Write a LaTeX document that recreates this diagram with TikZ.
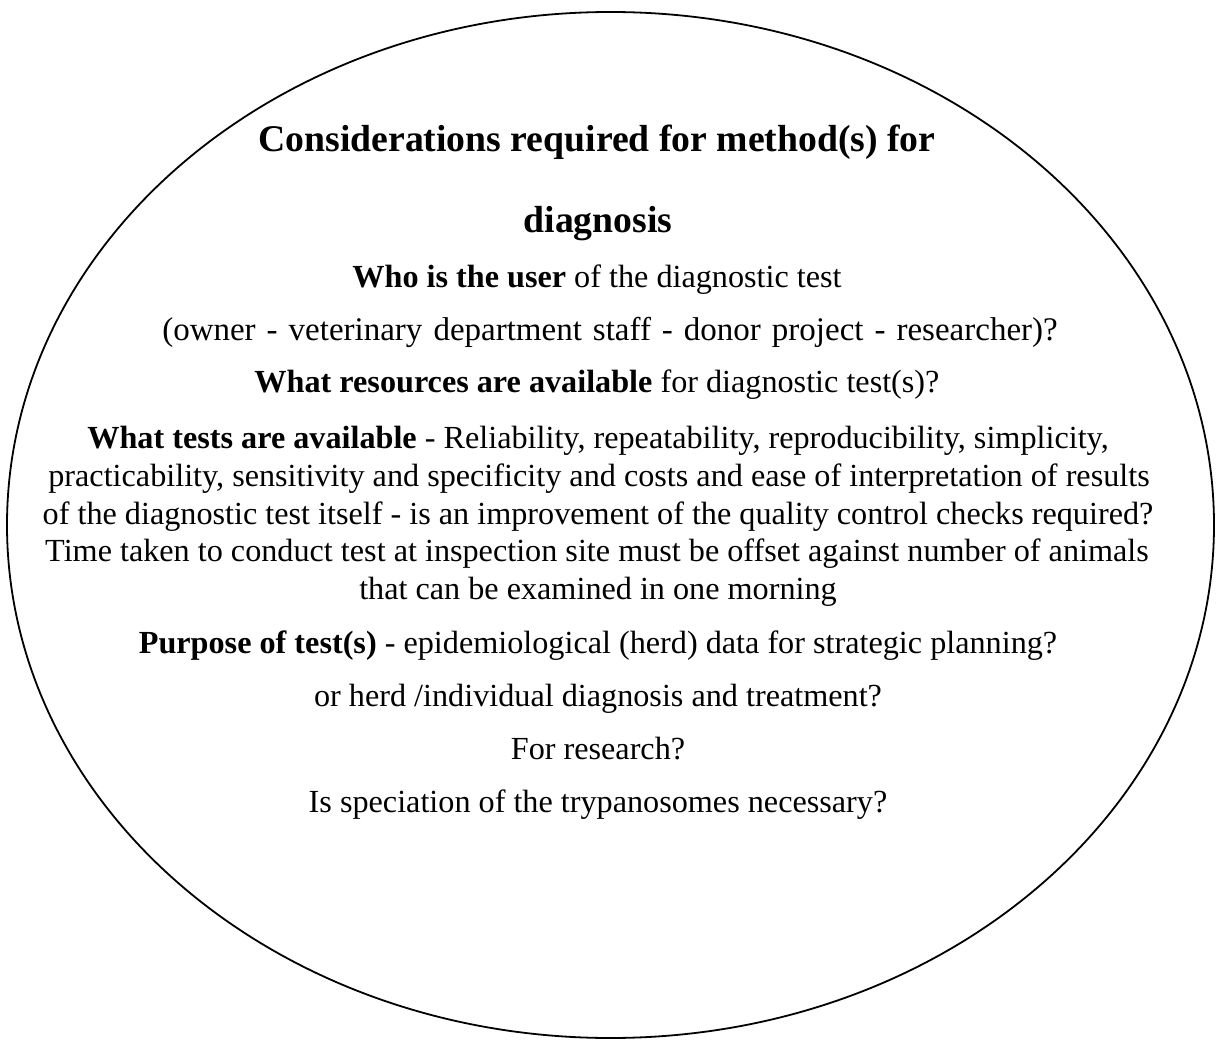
\documentclass[tikz,border=0pt]{standalone}
\usepackage{fontspec}
\setmainfont{Liberation Serif}
\usetikzlibrary{shapes.geometric}
\begin{document}
\begin{tikzpicture}[x=1pt,y=-1pt,
  body/.style={anchor=base,inner sep=0pt,font=\fontsize{32.2}{38}\selectfont},
  title/.style={anchor=base,inner sep=0pt,font=\fontsize{37.7}{45}\selectfont\bfseries}]
\useasboundingbox (0,0) rectangle (1221,1040);
\node[draw,line width=1.8pt,ellipse,minimum width=1207pt,minimum height=1026pt,inner sep=0pt] (oval) at (610.5,525) {};
\node[title] (t1) at (597,152) {Considerations required for method(s) for};
\node[title] (t2) at (598,233) {diagnosis};
\node[body] (l1) at (597,288) {\textbf{Who is the user} of the diagnostic test};
\node[body,font=\fontsize{33}{38}\selectfont] (l2) at (610,341) {\spaceskip=11pt plus 2pt (owner - veterinary department staff - donor project - researcher)?};
\node[body] (l3) at (597,393) {\textbf{What resources are available} for diagnostic test(s)?};
\node[body] (l4) at (598,449) {\textbf{What tests are available} - Reliability, repeatability, reproducibility, simplicity,};
\node[body] (l5) at (599,486) {practicability, sensitivity and specificity and costs and ease of interpretation of results};
\node[body] (l6) at (598,524) {of the diagnostic test itself - is an improvement of the quality control checks required?};
\node[body] (l7) at (597,561) {Time taken to conduct test at inspection site must be offset against number of animals};
\node[body] (l8) at (598,599) {that can be examined in one morning};
\node[body] (l9) at (598,653) {\textbf{Purpose of test(s)} - epidemiological (herd) data for strategic planning?};
\node[body] (l10) at (598,706) {or herd /individual diagnosis and treatment?};
\node[body] (l11) at (598,759) {For research?};
\node[body] (l12) at (598,812) {Is speciation of the trypanosomes necessary?};
\end{tikzpicture}
\end{document}
